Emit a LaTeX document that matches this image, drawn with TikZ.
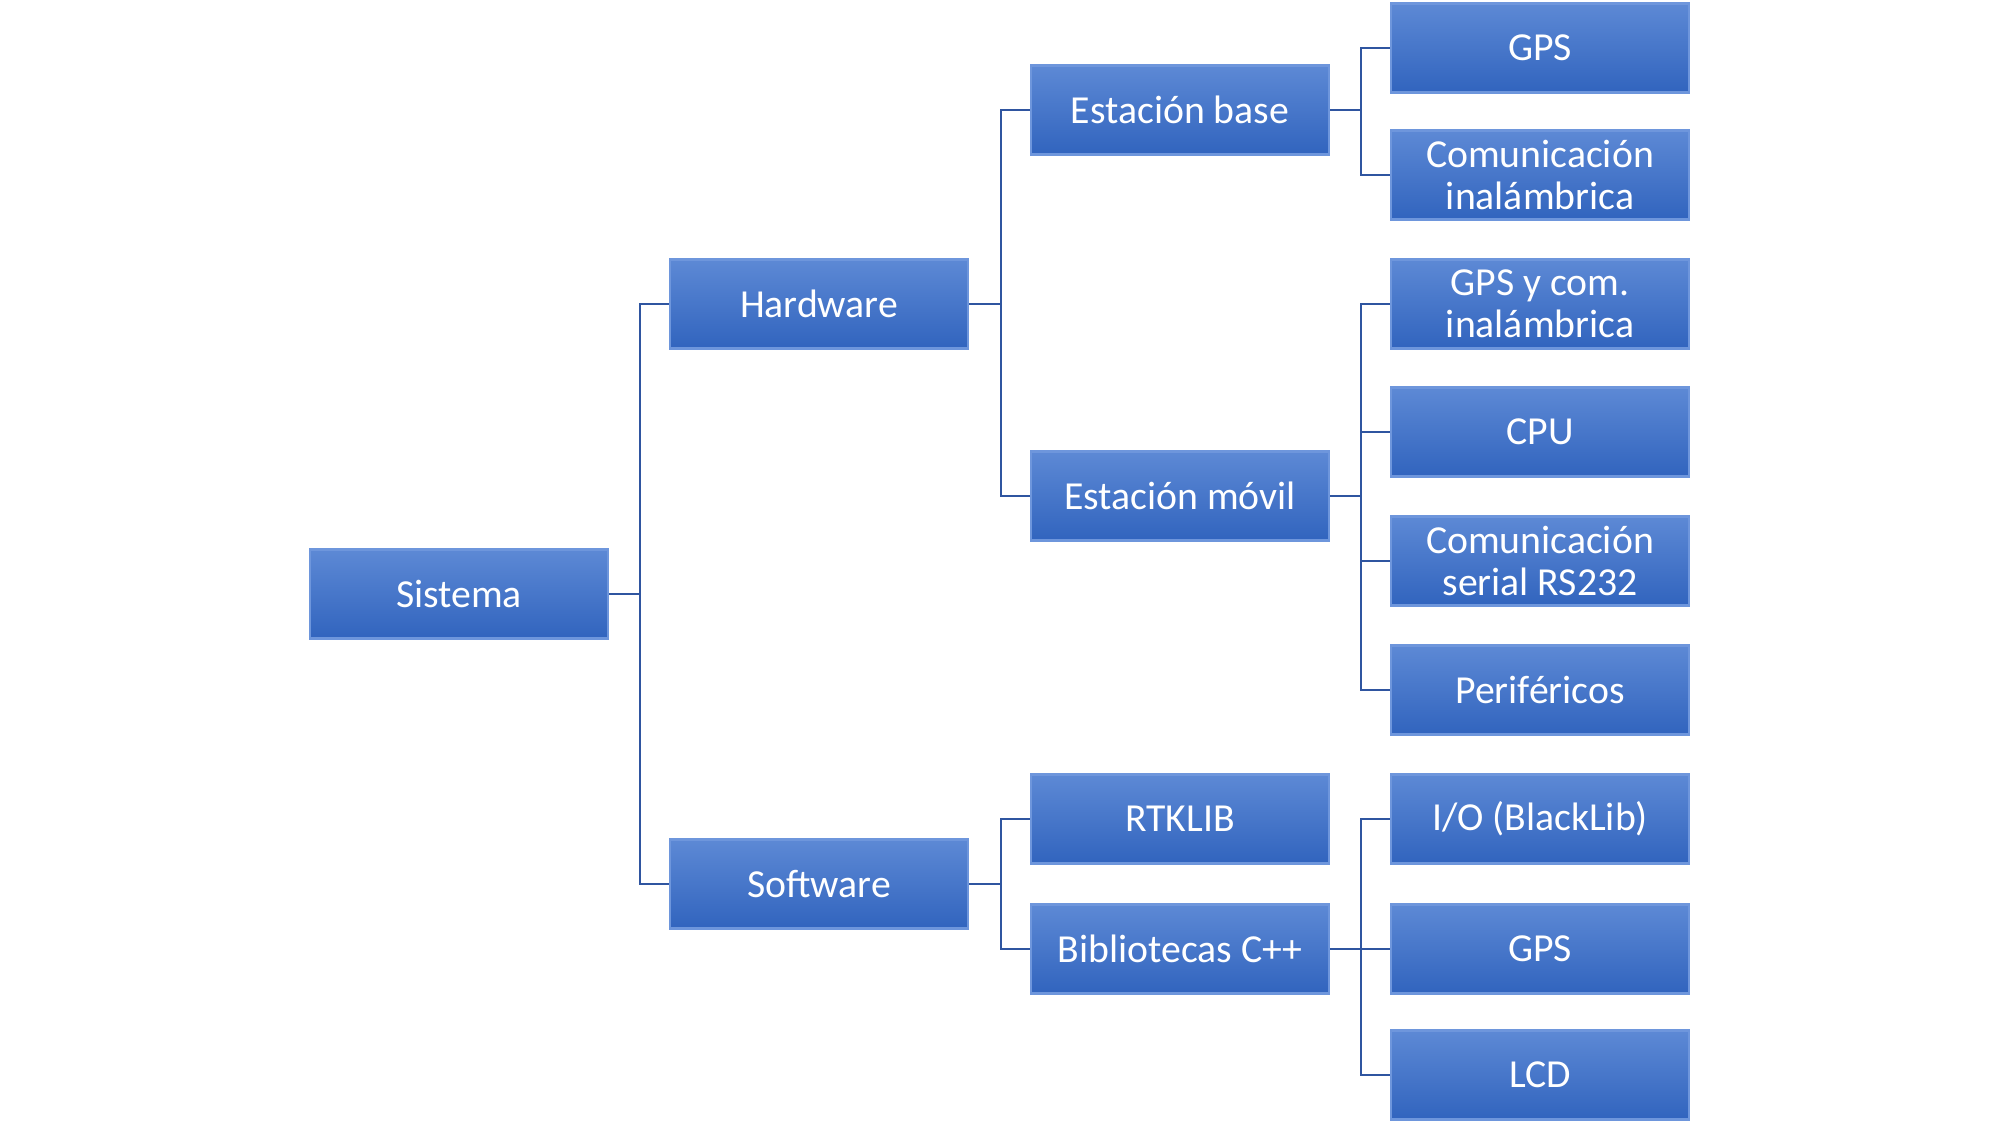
\documentclass[tikz,border=0pt]{standalone}
\usepackage{fontspec}
\setmainfont{Carlito}
\usepackage{tikz}
\usetikzlibrary{calc}

\definecolor{boxtop}{RGB}{93,137,213}
\definecolor{boxbot}{RGB}{49,100,190}
\definecolor{boxedge}{RGB}{110,150,220}
\definecolor{linkblue}{RGB}{47,85,160}

\begin{document}
\begin{tikzpicture}[
    item/.style={rectangle, top color=boxtop, bottom color=boxbot, draw=boxedge,
        line width=0.6pt, minimum width=2.98cm, minimum height=0.89cm, inner sep=0pt,
        text=white, align=center, font=\fontsize{11.3}{12}\selectfont},
    link/.style={draw=linkblue, line width=0.6pt}
]
\useasboundingbox (0,0) rectangle (20,-11.25);

% root and first level
\node[item] (sis) at (4.59,-5.94) {Sistema};
\node[item] (hw) at (8.19,-3.04) {Hardware};
\node[item] (sw) at (8.19,-8.84) {Software};

% second level
\node[item] (eb) at (11.80,-1.10) {Estación base};
\node[item] (em) at (11.80,-4.96) {Estación móvil};
\node[item] (rtk) at (11.80,-8.19) {RTKLIB};
\node[item] (bib) at (11.80,-9.49) {Bibliotecas C++};

% leaves
\node[item] (gpsa) at (15.40,-0.48) {GPS};
\node[item] (coma) at (15.40,-1.75) {Comunicación\\inalámbrica};
\node[item] (gpscom) at (15.40,-3.04) {GPS y com.\\inalámbrica};
\node[item] (cpu) at (15.40,-4.32) {CPU};
\node[item] (ser) at (15.40,-5.61) {Comunicación\\serial RS232};
\node[item] (per) at (15.40,-6.90) {Periféricos};
\node[item] (io) at (15.40,-8.19) {I/O (BlackLib)};
\node[item] (gpsb) at (15.40,-9.49) {GPS};
\node[item] (lcd) at (15.40,-10.75) {LCD};

% connectors
\foreach \a/\b in {sis/hw, sis/sw}
    \draw[link] (\a.east) -- ++(0.31,0) |- (\b.west);
\foreach \a/\b in {hw/eb, hw/em, sw/rtk, sw/bib}
    \draw[link] (\a.east) -- ++(0.32,0) |- (\b.west);
\foreach \a/\b in {eb/gpsa, eb/coma, em/gpscom, em/cpu, em/ser, em/per, bib/io, bib/gpsb, bib/lcd}
    \draw[link] (\a.east) -- ++(0.31,0) |- (\b.west);
\end{tikzpicture}
\end{document}
